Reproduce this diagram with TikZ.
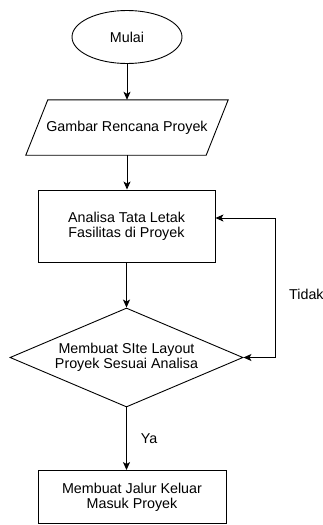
\documentclass[tikz,border=0pt]{standalone}
\usepackage{fontspec}
\setmainfont{Liberation Sans}
\usetikzlibrary{shapes.geometric,arrows.meta,calc}
\begin{document}
\begin{tikzpicture}[x=1pt,y=-1pt,
  every node/.style={font=\fontsize{14.3}{15}\selectfont, align=center, inner sep=0pt},
  box/.style={draw, line width=0.9pt, rectangle},
  conn/.style={draw, line width=0.9pt, -{Stealth[length=8pt,width=7pt,inset=2pt]}},
  lbl/.style={font=\fontsize{14.3}{15}\selectfont}
]
\useasboundingbox (0,0) rectangle (323,525);
\node[draw, line width=0.9pt, ellipse, minimum width=110pt, minimum height=53pt] (start) at (127,37) {Mulai};
\node[rectangle, minimum width=180pt, minimum height=55pt] (gam) at (127,127.5) {Gambar Rencana Proyek};
\draw[line width=0.9pt] ($(gam.north west)+(11,0)$) -- ($(gam.north east)+(11,0)$) -- ($(gam.south east)+(-11,0)$) -- ($(gam.south west)+(-11,0)$) -- cycle;
\node[box, minimum width=177pt, minimum height=72pt] (ana) at (126.5,226) {Analisa Tata Letak\\Fasilitas di Proyek};
\node[draw, line width=0.9pt, diamond, shape aspect=2.35, minimum width=233pt, minimum height=99pt] (dia) at (126.5,357.5) {Membuat SIte Layout\\Proyek Sesuai Analisa};
\node[box, minimum width=188pt, minimum height=53pt] (out) at (132,497) {Membuat Jalur Keluar\\Masuk Proyek};
\node[lbl, anchor=west] (tidak) at (289,294) {Tidak};
\node[lbl] (ya) at (149,439) {Ya};
\draw[conn] (start.south) -- (gam.north -| start.south);
\draw[conn] (gam.south) -- (ana.north -| gam.south);
\draw[conn] (ana.south -| dia.north) -- (dia.north);
\draw[conn] (dia.south) -- (out.north -| dia.south);
\draw[line width=0.9pt, {Stealth[length=8pt,width=7pt,inset=2pt]}-{Stealth[length=8pt,width=7pt,inset=2pt]}] (dia.east) -- ++(32,0) |- ($(ana.east)+(0,-8)$);
\end{tikzpicture}
\end{document}
